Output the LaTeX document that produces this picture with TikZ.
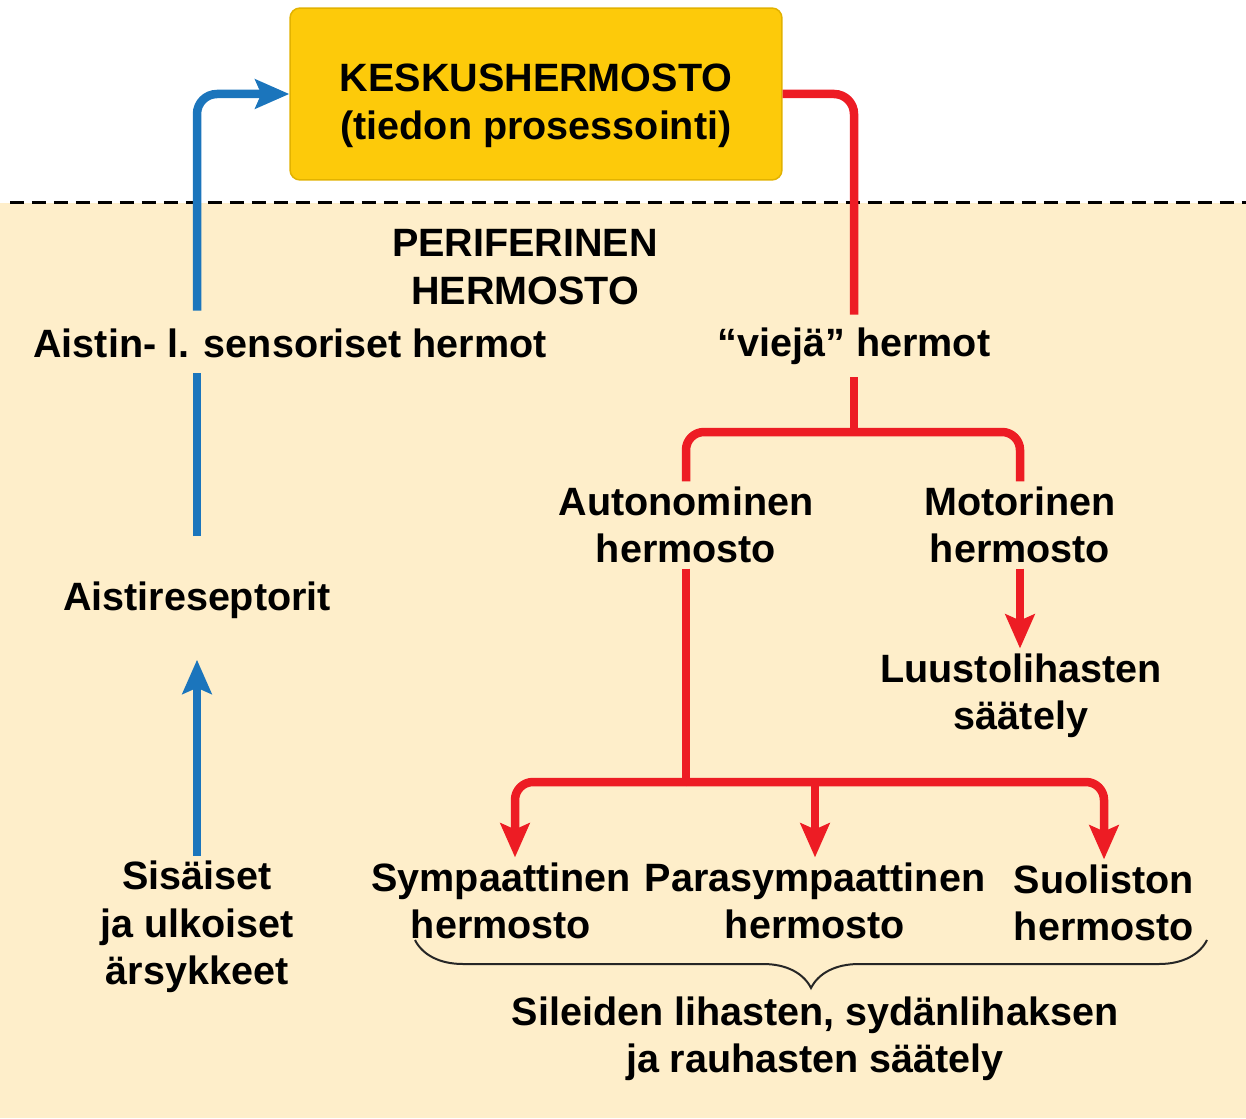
\documentclass[tikz,border=0pt]{standalone}
\usepackage{fontspec}
\setmainfont{Liberation Sans}
\usetikzlibrary{arrows.meta,decorations.pathreplacing}
\definecolor{nsyellow}{RGB}{253,202,10}
\definecolor{nsyellowedge}{RGB}{226,178,0}
\definecolor{nscream}{RGB}{254,238,202}
\definecolor{nsblue}{RGB}{27,117,188}
\definecolor{nsred}{RGB}{237,28,36}
\tikzset{
  lbl/.style={align=center, font=\fontsize{22.5}{27}\selectfont\bfseries, inner sep=0.1cm},
  sensory/.style={draw=nsblue, line width=0.17cm},
  motorline/.style={draw=nsred, line width=0.17cm},
  arrowhd/.style={-{Stealth[length=0.68cm,width=0.58cm,inset=0.12cm]}}
}
\begin{document}
\begin{tikzpicture}[x=0.02cm,y=-0.02cm]
\useasboundingbox (0,0) rectangle (1246,1118);
\fill[nscream] (0,203) rectangle (1246,1118);
\draw[line width=0.06cm, dash pattern=on 0.28cm off 0.16cm] (10,203) -- (1246,203);

\node[lbl, draw=nsyellowedge, fill=nsyellow, rounded corners=0.2cm, line width=0.03cm, minimum width=9.84cm, minimum height=3.44cm] (cns) at (536,94) {\rule{0pt}{29pt}KESKUSHERMOSTO\\(tiedon prosessointi)};
\node[lbl] (pns) at (525,267) {PERIFERINEN\\HERMOSTO};
\node[lbl] (sens) at (290,343) {Aistin- l. sensoriset hermot};
\node[lbl] (eff) at (854,346) {“viejä” hermot};
\node[lbl] (recept) at (197,600) {Aistireseptorit};
\node[lbl] (stim) at (197,927) {Sisäiset\\ja ulkoiset\\ärsykkeet};
\node[lbl] (auto) at (686,525) {Autonominen\\hermosto};
\node[lbl] (motor) at (1020,525) {Motorinen\\hermosto};
\node[lbl] (skel) at (1021,696) {Luustolihasten\\säätely};
\node[lbl] (symp) at (501,901) {Sympaattinen\\hermosto};
\node[lbl] (para) at (815,901) {Parasympaattinen\\hermosto};
\node[lbl] (enteric) at (1104,903) {Suoliston\\hermosto};
\node[lbl] (smooth) at (815,1039) {Sileiden lihasten, sydänlihaksen\\ja rauhasten säätely};

\coordinate (split1) at (854,432);
\coordinate (split2) at (686,782);
\coordinate (braceL) at (415,940);
\coordinate (braceR) at (1207,940);

\draw[sensory, arrowhd, shorten >=0.72cm] (stim.north) -- (stim.north |- recept.south);
\draw[sensory, shorten <=0.8cm, shorten >=0.2cm] (recept.north) -- (recept.north |- sens.south);
\draw[sensory, arrowhd, rounded corners=0.4cm, shorten <=0.25cm] (recept.north |- sens.north) |- (cns.west);

\draw[motorline, rounded corners=0.4cm, shorten >=0.15cm] (cns.east) -| (eff.north);
\draw[motorline, shorten <=0.15cm] (eff.south) -- (split1);
\draw[motorline, rounded corners=0.36cm] (auto.north) |- (split1) -| (motor.north);
\draw[motorline, arrowhd] (motor.south) -- (motor.south |- skel.north);
\draw[motorline] (auto.south) -- (split2);
\draw[motorline, arrowhd, rounded corners=0.36cm] (split2) -| ([xshift=0.28cm]symp.north);
\draw[motorline, arrowhd, rounded corners=0.36cm] (split2) -| (enteric.north);
\draw[motorline, arrowhd] (para.north |- split2) -- (para.north);

\draw[decorate, decoration={brace, mirror, amplitude=0.96cm}, line width=0.04cm, draw=black!85] (braceL) -- (braceR);
\end{tikzpicture}
\end{document}
